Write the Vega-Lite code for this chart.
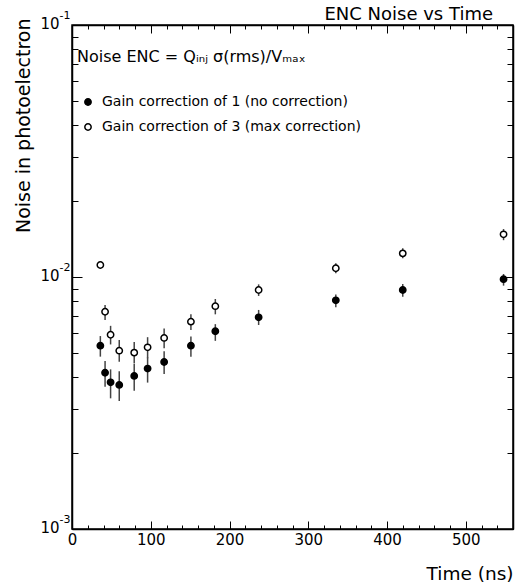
{
  "$schema": "https://vega.github.io/schema/vega-lite/v6.json",
  "width": 441,
  "height": 504,
  "autosize": {"type": "none"},
  "padding": {"left": 72, "top": 25, "right": 8, "bottom": 57},
  "background": "white",
  "config": {
    "font": "DejaVu Sans",
    "view": {"stroke": "black", "strokeWidth": 1.5},
    "axis": {"grid": false, "domainColor": "black", "domainWidth": 1.5, "tickColor": "black", "tickWidth": 1, "labelColor": "black", "titleColor": "black", "labelFont": "DejaVu Sans", "titleFont": "DejaVu Sans", "titleFontWeight": "normal"}
  },
  "title": {"text": "ENC Noise vs Time", "anchor": "end", "frame": "group", "fontSize": 18, "fontWeight": "normal", "color": "black", "offset": -15, "dx": -20, "font": "DejaVu Sans"},
  "data": {
    "values": [
      {"t": 36, "series": "Gain correction of 1 (no correction)", "v": 0.00534, "lo": 0.00483, "hi": 0.00583},
      {"t": 42, "series": "Gain correction of 1 (no correction)", "v": 0.00417, "lo": 0.00367, "hi": 0.00464},
      {"t": 49, "series": "Gain correction of 1 (no correction)", "v": 0.00382, "lo": 0.0033, "hi": 0.0043},
      {"t": 60, "series": "Gain correction of 1 (no correction)", "v": 0.00373, "lo": 0.00322, "hi": 0.00423},
      {"t": 79, "series": "Gain correction of 1 (no correction)", "v": 0.00405, "lo": 0.00354, "hi": 0.00452},
      {"t": 96, "series": "Gain correction of 1 (no correction)", "v": 0.00433, "lo": 0.00381, "hi": 0.0048},
      {"t": 117, "series": "Gain correction of 1 (no correction)", "v": 0.0046, "lo": 0.00412, "hi": 0.00507},
      {"t": 151, "series": "Gain correction of 1 (no correction)", "v": 0.00534, "lo": 0.00483, "hi": 0.0058},
      {"t": 182, "series": "Gain correction of 1 (no correction)", "v": 0.00609, "lo": 0.00558, "hi": 0.0065},
      {"t": 237, "series": "Gain correction of 1 (no correction)", "v": 0.00692, "lo": 0.00645, "hi": 0.0074},
      {"t": 335, "series": "Gain correction of 1 (no correction)", "v": 0.00808, "lo": 0.00758, "hi": 0.00853},
      {"t": 420, "series": "Gain correction of 1 (no correction)", "v": 0.00888, "lo": 0.00835, "hi": 0.00938},
      {"t": 548, "series": "Gain correction of 1 (no correction)", "v": 0.0098, "lo": 0.00924, "hi": 0.01028},
      {"t": 36, "series": "Gain correction of 3 (max correction)", "v": 0.01116, "lo": 0.0108, "hi": 0.0114},
      {"t": 42, "series": "Gain correction of 3 (max correction)", "v": 0.00728, "lo": 0.00675, "hi": 0.00774},
      {"t": 49, "series": "Gain correction of 3 (max correction)", "v": 0.0059, "lo": 0.0054, "hi": 0.0064},
      {"t": 60, "series": "Gain correction of 3 (max correction)", "v": 0.0051, "lo": 0.00461, "hi": 0.00562},
      {"t": 79, "series": "Gain correction of 3 (max correction)", "v": 0.00501, "lo": 0.00454, "hi": 0.00552},
      {"t": 96, "series": "Gain correction of 3 (max correction)", "v": 0.00526, "lo": 0.00476, "hi": 0.00577},
      {"t": 117, "series": "Gain correction of 3 (max correction)", "v": 0.00573, "lo": 0.00521, "hi": 0.00624},
      {"t": 151, "series": "Gain correction of 3 (max correction)", "v": 0.00665, "lo": 0.00616, "hi": 0.00711},
      {"t": 182, "series": "Gain correction of 3 (max correction)", "v": 0.00766, "lo": 0.00711, "hi": 0.00818},
      {"t": 237, "series": "Gain correction of 3 (max correction)", "v": 0.00888, "lo": 0.00841, "hi": 0.00935},
      {"t": 335, "series": "Gain correction of 3 (max correction)", "v": 0.01083, "lo": 0.01035, "hi": 0.01133},
      {"t": 420, "series": "Gain correction of 3 (max correction)", "v": 0.01241, "lo": 0.01186, "hi": 0.013},
      {"t": 548, "series": "Gain correction of 3 (max correction)", "v": 0.01477, "lo": 0.014, "hi": 0.0155}
    ]
  },
  "layer": [
    {
      "mark": {"type": "rule", "strokeWidth": 1.5, "opacity": 0},
      "encoding": {
        "x": {"field": "t", "type": "quantitative", "scale": {"domain": [0, 560], "nice": false, "zero": false}, "axis": null},
        "y": {
          "field": "lo", "type": "quantitative",
          "scale": {"type": "log", "domain": [0.001, 0.1], "nice": false},
          "axis": {
            "orient": "left", "title": null, "ticks": false, "domain": false,
            "values": [0.001, 0.01, 0.1],
            "labelExpr": "abs(datum.value - 0.001) < 1e-9 ? '-3' : abs(datum.value - 0.01) < 1e-9 ? '-2' : '-1'",
            "labelPadding": 2, "labelFontSize": 11, "labelBaseline": "alphabetic", "labelOffset": -7, "labelFlush": false, "labelOverlap": false, "labelBound": false
          }
        },
        "y2": {"field": "hi"}
      }
    },
    {
      "mark": {"type": "rule", "strokeWidth": 1.5, "color": "#444"},
      "encoding": {
        "x": {
          "field": "t", "type": "quantitative",
          "axis": {
            "orient": "bottom", "title": "Time (ns)", "titleAnchor": "end", "titleFontSize": 18.5, "titlePadding": 13,
            "values": [0,20,40,60,80,100,120,140,160,180,200,220,240,260,280,300,320,340,360,380,400,420,440,460,480,500,520,540,560],
            "labelExpr": "datum.value % 100 == 0 ? format(datum.value, 'd') : ''",
            "tickSize": {"condition": {"test": "datum.value % 100 == 0", "value": -8}, "value": -4},
            "labelPadding": 11, "labelFontSize": 15, "labelFlush": false, "labelOverlap": false, "labelBound": false
          }
        },
        "y": {
          "field": "lo", "type": "quantitative",
          "axis": {
            "orient": "left", "title": "Noise in photoelectron", "titleAnchor": "end", "titleAlign": "right", "titleY": -7, "titleFontSize": 19, "titlePadding": 6,
            "values": [0.001,0.002,0.003,0.004,0.005,0.006,0.007,0.008,0.009,0.01,0.02,0.03,0.04,0.05,0.06,0.07,0.08,0.09,0.1],
            "labelExpr": "abs(datum.value - 0.001) < 1e-9 || abs(datum.value - 0.01) < 1e-9 || abs(datum.value - 0.1) < 1e-9 ? '10' : ''",
            "tickSize": {"condition": {"test": "abs(datum.value - 0.001) < 1e-9 || abs(datum.value - 0.01) < 1e-9 || abs(datum.value - 0.1) < 1e-9", "value": -10}, "value": -6},
            "labelPadding": 23, "labelFontSize": 15, "labelBaseline": "alphabetic", "labelOffset": 3, "labelFlush": false, "labelOverlap": false, "labelBound": false
          }
        },
        "y2": {"field": "hi"}
      }
    },
    {
      "mark": {"type": "point", "filled": true, "size": 40, "stroke": "black", "strokeWidth": 1.5, "opacity": 1, "shape": "circle"},
      "encoding": {
        "x": {
          "field": "t", "type": "quantitative",
          "axis": {
            "orient": "top", "title": null, "labels": false,
            "values": [0,20,40,60,80,100,120,140,160,180,200,220,240,260,280,300,320,340,360,380,400,420,440,460,480,500,520,540,560],
            "tickSize": {"condition": {"test": "datum.value % 100 == 0", "value": -8}, "value": -4}
          }
        },
        "y": {
          "field": "v", "type": "quantitative",
          "axis": {
            "orient": "right", "title": null, "labels": false,
            "values": [0.001,0.002,0.003,0.004,0.005,0.006,0.007,0.008,0.009,0.01,0.02,0.03,0.04,0.05,0.06,0.07,0.08,0.09,0.1],
            "tickSize": {"condition": {"test": "abs(datum.value - 0.001) < 1e-9 || abs(datum.value - 0.01) < 1e-9 || abs(datum.value - 0.1) < 1e-9", "value": -10}, "value": -6}
          }
        },
        "fill": {
          "field": "series", "type": "nominal",
          "scale": {"domain": ["Gain correction of 1 (no correction)", "Gain correction of 3 (max correction)"], "range": ["black", "white"]},
          "legend": {
            "orient": "none", "legendX": 5, "legendY": 24, "padding": 0,
            "title": "Noise ENC = Qᵢₙⱼ σ(rms)/Vₘₐₓ", "titleFontSize": 16, "titleFontWeight": "normal", "titleColor": "black", "titleFont": "DejaVu Sans", "titlePadding": 30, "titleLimit": 500,
            "labelFontSize": 14, "labelColor": "black", "labelFont": "DejaVu Sans", "labelOffset": 7, "labelLimit": 400,
            "symbolType": "circle", "symbolSize": 40, "symbolStrokeColor": "black", "symbolStrokeWidth": 1.5, "symbolOffset": 4, "rowPadding": 11
          }
        }
      }
    }
  ],
  "resolve": {"axis": {"x": "independent", "y": "independent"}}
}
